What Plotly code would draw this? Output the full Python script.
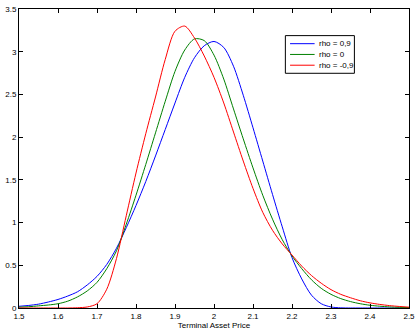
import plotly.graph_objects as go

# Terminal asset price grid (x) shared by all three series
price = [1.500, 1.525, 1.550, 1.575, 1.600, 1.625, 1.650, 1.675, 1.700, 1.725,
         1.750, 1.775, 1.800, 1.825, 1.850, 1.875, 1.900, 1.925, 1.950, 1.975,
         2.000, 2.025, 2.050, 2.075, 2.100, 2.125, 2.150, 2.175, 2.200, 2.225,
         2.250, 2.275, 2.300, 2.325, 2.350, 2.375, 2.400, 2.425, 2.450, 2.475, 2.500]

# rho = 0,9 (blue)
density_blue = [0.02, 0.03, 0.045, 0.07, 0.10, 0.14, 0.19, 0.27, 0.37, 0.51,
                0.70, 0.94, 1.20, 1.48, 1.78, 2.09, 2.40, 2.70, 2.93, 3.07,
                3.12, 3.05, 2.83, 2.49, 2.11, 1.72, 1.33, 0.95, 0.59, 0.34,
                0.15, 0.05, 0.012, 0.002, 0.0, 0.0, 0.0, 0.0, 0.0, 0.0, 0.0]

# rho = 0 (green)
density_green = [0.01, 0.015, 0.025, 0.035, 0.05, 0.08, 0.13, 0.20, 0.30, 0.46,
                 0.67, 0.98, 1.32, 1.68, 2.05, 2.42, 2.77, 3.02, 3.15, 3.13,
                 2.96, 2.68, 2.33, 1.98, 1.64, 1.32, 1.04, 0.80, 0.61, 0.46,
                 0.33, 0.23, 0.16, 0.11, 0.075, 0.05, 0.032, 0.021, 0.013, 0.008, 0.005]

# rho = -0,9 (red)
density_red = [0.0, 0.0, 0.0, 0.0, 0.0, 0.0, 0.003, 0.012, 0.05, 0.22,
               0.58, 1.08, 1.58, 2.04, 2.47, 2.91, 3.24, 3.30, 3.16, 2.95,
               2.70, 2.40, 2.06, 1.72, 1.40, 1.12, 0.91, 0.75, 0.62, 0.49,
               0.38, 0.29, 0.215, 0.16, 0.12, 0.085, 0.06, 0.042, 0.028, 0.018, 0.01]

names = ["rho = 0,9", "rho = 0", "rho = -0,9"]
colors = ["#0000ff", "#008000", "#ff0000"]

x_ticks = [1.5, 1.6, 1.7, 1.8, 1.9, 2.0, 2.1, 2.2, 2.3, 2.4, 2.5]
x_tick_labels = ["1.5", "1.6", "1.7", "1.8", "1.9", "2", "2.1", "2.2", "2.3", "2.4", "2.5"]
y_ticks = [0, 0.5, 1, 1.5, 2, 2.5, 3, 3.5]
y_tick_labels = ["0", "0.5", "1", "1.5", "2", "2.5", "3", "3.5"]

FONT = "Liberation Sans, Arial, Helvetica, sans-serif"

fig = go.Figure()
for ys, nm, c in zip([density_blue, density_green, density_red], names, colors):
    fig.add_trace(go.Scatter(x=price, y=ys, mode="lines", name=nm, showlegend=False,
                             line=dict(color=c, width=1, shape="spline", smoothing=0.8)))

# Compact MATLAB-style legend box (paper coordinates)
leg_x0, leg_x1, leg_y0, leg_y1 = 0.683, 0.860, 0.785, 0.911
fig.add_shape(type="rect", xref="paper", yref="paper", x0=leg_x0, x1=leg_x1, y0=leg_y0, y1=leg_y1,
              line=dict(color="black", width=1), fillcolor="white", layer="above")
entry_y = [0.884, 0.848, 0.812]
for yy, nm, c in zip(entry_y, names, colors):
    fig.add_shape(type="line", xref="paper", yref="paper", x0=0.695, x1=0.758, y0=yy, y1=yy,
                  line=dict(color=c, width=1), layer="above")
    fig.add_annotation(xref="paper", yref="paper", x=0.765, y=yy, text=nm, showarrow=False,
                       xanchor="left", yanchor="middle",
                       font=dict(family=FONT, size=8, color="black"))

axis_common = dict(showgrid=False, zeroline=False, showline=True, linecolor="black",
                   linewidth=1, mirror="allticks", ticks="inside", ticklen=4,
                   tickcolor="black", tickfont=dict(family=FONT, size=8, color="black"))

fig.update_layout(
    width=420, height=335,
    margin=dict(l=18, r=8, t=5, b=27),
    paper_bgcolor="white", plot_bgcolor="white",
    showlegend=False,
    xaxis=dict(range=[1.5, 2.5], tickvals=x_ticks, ticktext=x_tick_labels,
               title=dict(text="Terminal Asset Price", standoff=2,
                          font=dict(family=FONT, size=8, color="black")),
               **axis_common),
    yaxis=dict(range=[0, 3.5], tickvals=y_ticks, ticktext=y_tick_labels, **axis_common),
)

fig.write_html("out.html")
